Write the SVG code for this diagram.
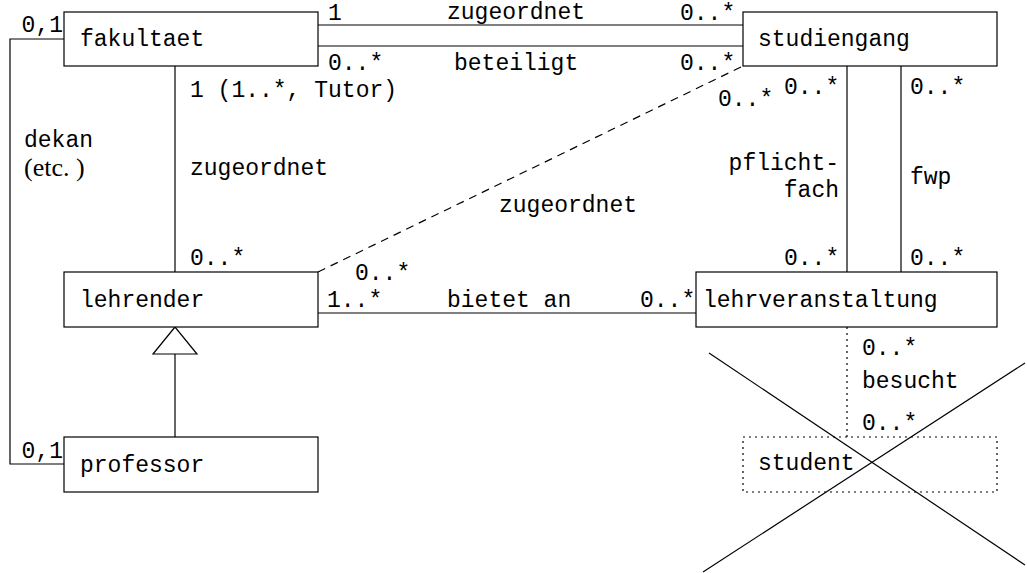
<svg xmlns="http://www.w3.org/2000/svg" width="1027" height="573" viewBox="0 0 1027 573">
<style>
.box{fill:#fff;stroke:#000;stroke-width:1.2}
.dbox{fill:none;stroke:#000;stroke-width:1.2;stroke-dasharray:2 4}
.ln{fill:none;stroke:#000;stroke-width:1.2}
.dash{fill:none;stroke:#000;stroke-width:1.2;stroke-dasharray:8 6}
.dot{fill:none;stroke:#000;stroke-width:1.2;stroke-dasharray:2 4}
text{font-family:"Liberation Mono","DejaVu Sans Mono",monospace;font-size:23px;fill:#000}
.serif{font-family:"Liberation Serif","Times New Roman",serif;font-size:26px}
.end{text-anchor:end}
</style>
<rect width="1027" height="573" fill="#fff"/>
<g id="connectors">
<line class="ln" x1="318" y1="25" x2="743" y2="25"/>
<line class="ln" x1="318" y1="46" x2="743" y2="46"/>
<polyline class="ln" points="64,39 10,39 10,464 64,464"/>
<line class="ln" x1="175" y1="66" x2="175" y2="272"/>
<line class="dash" x1="318" y1="272" x2="743" y2="66"/>
<line class="ln" x1="847" y1="66" x2="847" y2="272"/>
<line class="ln" x1="901" y1="66" x2="901" y2="272"/>
<line class="ln" x1="318" y1="313" x2="696" y2="313"/>
<line class="dot" x1="847" y1="327" x2="847" y2="437"/>
<polygon class="box" points="175,327 153,354 197,354"/>
<line class="ln" x1="175" y1="354" x2="175" y2="437"/>
<text x="328" y="20">1</text>
<text x="447" y="19">zugeordnet</text>
<text x="680" y="20">0..*</text>
<text x="328" y="70">0..*</text>
<text x="454" y="70">beteiligt</text>
<text x="680" y="70">0..*</text>
<text class="end" x="63" y="32">0,1</text>
<text class="end" x="63" y="458">0,1</text>
<text x="24" y="147">dekan</text>
<text class="serif" x="24" y="176">(etc. )</text>
<text x="190" y="97">1 (1..*, Tutor)</text>
<text x="190" y="175">zugeordnet</text>
<text x="190" y="265">0..*</text>
<text x="499" y="212">zugeordnet</text>
<text x="355" y="280">0..*</text>
<text x="718" y="106">0..*</text>
<text x="784" y="94">0..*</text>
<text x="910" y="94">0..*</text>
<text class="end" x="839" y="170">pflicht-</text>
<text class="end" x="839" y="197">fach</text>
<text x="910" y="184">fwp</text>
<text x="784" y="265">0..*</text>
<text x="910" y="265">0..*</text>
<text x="327" y="307">1..*</text>
<text x="447" y="307">bietet an</text>
<text x="640" y="307">0..*</text>
<text x="862" y="355">0..*</text>
<text x="862" y="388">besucht</text>
<text x="862" y="430">0..*</text>
</g>
<g id="fakultaet"><rect class="box" x="64" y="12" width="254" height="54"/><text x="80" y="46">fakultaet</text></g>
<g id="studiengang"><rect class="box" x="743" y="12" width="254" height="54"/><text x="758" y="46">studiengang</text></g>
<g id="lehrender"><rect class="box" x="64" y="272" width="254" height="55"/><text x="80" y="307">lehrender</text></g>
<g id="lehrveranstaltung"><rect class="box" x="696" y="272" width="301" height="55"/><text x="703" y="307">lehrveranstaltung</text></g>
<g id="professor"><rect class="box" x="64" y="437" width="254" height="55"/><text x="80" y="472">professor</text></g>
<g id="student"><rect class="dbox" x="743" y="437" width="254" height="55"/><text x="758" y="470">student</text></g>
<g id="cross">
<line class="ln" x1="709" y1="353" x2="1025" y2="565"/>
<line class="ln" x1="703" y1="572" x2="1025" y2="363"/>
</g>
</svg>
